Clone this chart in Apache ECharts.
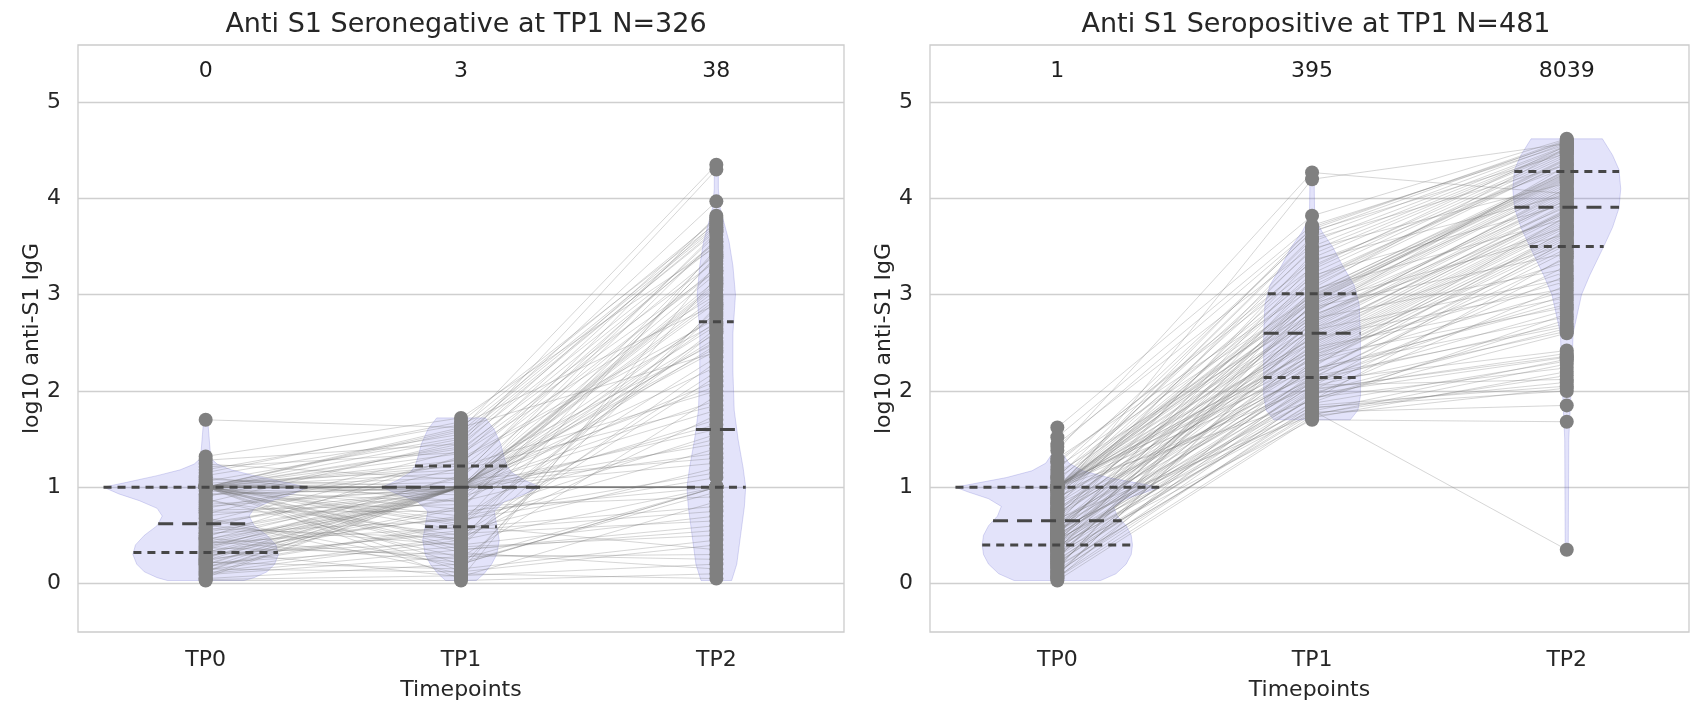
<!DOCTYPE html>
<html>
<head>
<meta charset="utf-8">
<script src="https://cdn.jsdelivr.net/npm/echarts@6/dist/echarts.min.js"></script>
<style>
  html, body { margin: 0; padding: 0; background: #fff; }
  #chart { width: 1690px; height: 706px; }
</style>
</head>
<body>
<div id="chart"></div>
<script>
var categories = ['TP0', 'TP1', 'TP2'];
var yTicks = [0, 1, 2, 3, 4, 5];
var panelTitles = ['Anti S1 Seronegative at TP1 N=326', 'Anti S1 Seropositive at TP1 N=481'];
var negCounts = ['0', '3', '38'];
var posCounts = ['1', '395', '8039'];

// log10 anti-S1 IgG per subject (same index = same subject), seronegative panel
var negTP0 = [0.03, 0.05, 0.08, 0.10, 0.12, 0.14, 0.16, 0.18, 0.20, 0.22,
  0.24, 0.25, 0.27, 0.28, 0.30, 0.31, 0.32, 0.33, 0.35, 0.37,
  0.38, 0.40, 0.42, 0.43, 0.45, 0.47, 0.50, 0.52, 0.55, 0.58,
  0.60, 0.62, 0.64, 0.67, 0.70, 0.74, 0.78, 0.82, 0.86, 0.90,
  0.93, 0.96, 1, 1, 1, 1, 1, 1, 1, 1,
  1, 1, 1, 1, 1, 1, 1, 1, 1, 1,
  1, 1, 1, 1.04, 1.08, 1.12, 1.18, 1.24, 1.32, 1.70,
  0.04, 0.06, 0.09, 0.11, 0.13, 0.15, 0.17, 0.19, 0.21, 0.23,
  0.26, 0.29, 0.34, 0.36, 0.39, 0.41, 0.44, 0.46, 0.48, 0.53,
  0.57, 0.63, 0.68, 0.72, 0.76, 0.80, 0.84, 0.88, 0.92, 0.98,
  1, 1, 1, 1, 1, 1, 1, 1, 1, 1,
  1, 1, 1, 1, 1.02, 1.06, 1.10, 1.15, 1.21, 1.28];
var negTP1 = [0.03, 0.20, 1.00, 0.35, 1.00, 0.48, 1.00, 0.62, 1.00, 0.15,
  1.00, 0.55, 1.00, 0.80, 1.00, 0.42, 1.00, 0.70, 1.00, 0.30,
  1.00, 0.90, 0.58, 1.00, 1.10, 0.25, 1.00, 0.66, 1.00, 1.20,
  0.40, 1.00, 1.30, 0.10, 1.00, 0.75, 1.25, 1.00, 0.50, 1.45,
  1.00, 0.85, 1.00, 1.00, 1.00, 1.00, 0.60, 1.22, 0.45, 1.35,
  0.65, 1.15, 0.32, 1.50, 0.95, 0.55, 1.28, 0.20, 1.40, 0.70,
  1.05, 1.60, 0.35, 1.18, 1.00, 1.55, 1.65, 1.08, 1.72, 1.62,
  0.08, 1.00, 0.28, 0.45, 1.00, 0.12, 0.60, 1.00, 0.38, 0.78,
  1.00, 0.52, 0.07, 1.12, 0.68, 1.00, 0.22, 0.88, 1.32, 1.00,
  0.47, 1.02, 0.18, 1.38, 0.82, 1.00, 1.48, 0.27, 1.00, 0.92,
  1.00, 0.38, 1.10, 0.62, 1.42, 0.13, 1.00, 0.77, 1.58, 0.05,
  0.97, 1.25, 0.43, 1.62, 1.00, 1.52, 0.85, 1.68, 1.36, 1.45];
var negTP2 = [0.10, 1.00, 2.10, 0.60, 1.45, 2.85, 1.00, 3.40, 2.60, 0.45,
  1.80, 1.20, 3.10, 0.90, 1.00, 2.30, 3.65, 1.55, 1.00, 0.25,
  2.95, 1.70, 0.80, 1.35, 3.82, 1.00, 2.45, 1.10, 1.00, 3.25,
  0.70, 1.90, 2.75, 0.05, 1.60, 1.00, 3.55, 1.25, 2.20, 4.30,
  1.00, 1.50, 1.00, 1.00, 1.00, 1.00, 0.35, 2.00, 1.00, 3.00,
  1.40, 2.50, 0.15, 3.97, 1.65, 0.75, 2.70, 1.00, 3.35, 1.15,
  2.05, 4.35, 0.55, 1.85, 1.00, 3.70, 2.90, 1.30, 3.50, 2.40,
  0.20, 2.52, 0.30, 2.15, 3.05, 0.40, 2.62, 2.25, 0.50, 3.45,
  2.68, 0.65, 0.85, 3.62, 2.35, 3.15, 0.95, 2.80, 3.76, 2.42,
  1.75, 3.22, 2.88, 3.52, 2.48, 2.78, 3.68, 1.95, 3.12, 2.55,
  2.92, 2.82, 3.28, 2.65, 3.80, 3.18, 2.98, 3.38, 3.72, 3.32,
  3.58, 3.42, 3.48, 3.78, 3.08, 3.66, 2.72, 3.74, 3.25, 3.55];

// seropositive panel
var posTP0 = [0.03, 0.05, 0.07, 0.09, 0.11, 0.13, 0.15, 0.17, 0.19, 0.21,
  0.23, 0.25, 0.27, 0.29, 0.30, 0.32, 0.34, 0.35, 0.36, 0.37,
  0.38, 0.40, 0.41, 0.42, 0.43, 0.44, 0.45, 0.46, 0.47, 0.48,
  0.49, 0.50, 0.51, 0.52, 0.53, 0.54, 0.55, 0.56, 0.57, 0.58,
  0.59, 0.60, 0.62, 0.63, 0.65, 0.67, 0.69, 0.70, 0.72, 0.74,
  0.76, 0.78, 0.80, 0.82, 0.84, 0.86, 0.88, 0.90, 0.92, 0.94,
  0.96, 0.97, 0.99, 1, 1, 1, 1, 1, 1, 1,
  1, 1, 1, 1, 1, 1, 1, 1.03, 1.06, 1.09,
  1.12, 1.15, 1.18, 1.21, 1.25, 1.30, 1.38, 1.45, 1.52, 1.62,
  0.06, 0.12, 0.18, 0.22, 0.28, 0.33, 0.39, 0.42, 0.45, 0.50,
  0.55, 0.61, 0.66, 0.71, 0.77, 0.83, 0.89, 0.95, 1, 1,
  1, 1, 1, 1, 0.08, 0.16, 0.26, 0.35, 0.44, 0.52,
  0.60, 0.68, 0.74, 0.86, 1, 1, 1, 1.10, 1.27, 1.42];
var posTP1 = [1.72, 2.30, 1.85, 2.62, 1.95, 2.10, 3.03, 1.78, 2.44, 2.00,
  2.18, 1.88, 2.74, 2.06, 2.52, 1.70, 2.36, 2.90, 2.13, 1.92,
  2.26, 2.84, 1.97, 2.40, 3.15, 2.11, 2.58, 1.80, 2.66, 2.22,
  2.48, 3.30, 2.02, 2.70, 2.14, 2.95, 2.34, 1.83, 2.80, 2.56,
  2.08, 2.60, 3.42, 2.28, 2.97, 1.75, 2.46, 3.09, 2.64, 2.20,
  2.88, 2.38, 3.55, 2.12, 2.76, 3.22, 2.50, 4.20, 2.99, 2.04,
  2.68, 3.12, 2.32, 2.86, 3.60, 2.42, 2.94, 1.90, 3.38, 2.72,
  2.16, 2.96, 3.26, 2.54, 3.70, 2.82, 3.00, 2.24, 3.46, 2.92,
  3.18, 2.78, 3.65, 2.98, 3.34, 3.06, 4.27, 3.50, 3.72, 3.82,
  1.74, 1.82, 1.76, 1.93, 1.87, 2.01, 1.79, 2.05, 1.98, 2.15,
  1.91, 2.23, 2.09, 2.35, 2.19, 2.45, 2.29, 2.55, 2.41, 2.63,
  2.37, 2.75, 2.51, 2.87, 2.65, 2.91, 2.79, 3.05, 2.71, 3.20,
  2.83, 3.36, 2.93, 3.48, 3.02, 3.58, 3.14, 3.66, 3.28, 3.68];
var posTP2 = [2.20, 3.60, 2.05, 3.87, 3.10, 2.42, 4.26, 1.85, 3.76, 3.30,
  3.52, 2.80, 4.05, 2.12, 3.88, 1.68, 3.66, 4.30, 3.45, 2.60,
  3.58, 4.15, 2.35, 3.72, 4.42, 3.00, 3.95, 0.35, 4.01, 2.90,
  3.80, 4.48, 2.36, 4.11, 3.38, 4.21, 3.62, 2.00, 4.34, 3.89,
  3.20, 3.93, 4.51, 3.54, 4.22, 2.28, 3.78, 4.38, 3.99, 3.48,
  4.19, 3.70, 4.55, 2.70, 4.07, 4.44, 3.84, 4.57, 4.24, 3.56,
  4.03, 4.40, 3.64, 4.17, 4.58, 3.74, 4.20, 3.40, 4.50, 4.09,
  3.68, 4.23, 4.46, 3.86, 4.59, 4.13, 4.25, 3.82, 4.52, 4.27,
  4.36, 3.91, 4.60, 4.28, 4.32, 4.53, 4.05, 4.54, 4.56, 4.62,
  2.03, 2.09, 2.16, 2.24, 2.31, 2.39, 2.33, 2.62, 2.65, 2.67,
  2.74, 2.77, 2.84, 2.87, 2.94, 2.97, 3.04, 3.07, 3.14, 3.17,
  3.24, 3.27, 3.34, 3.43, 3.53, 3.63, 3.71, 3.79, 3.85, 3.94,
  3.98, 4.04, 4.10, 4.16, 4.29, 4.35, 4.41, 4.47, 4.55, 4.61];

// quartiles [q1, median, q3] per timepoint
var negQuart = [[0.32, 0.62, 1.00], [0.59, 1.00, 1.22], [1.00, 1.60, 2.72]];
var posQuart = [[0.40, 0.65, 1.00], [2.14, 2.60, 3.01], [3.50, 3.91, 4.28]];

// violin outlines: [log10 value, half width in category units]
var negViolin0 = [[0.03, 0.15], [0.06, 0.19], [0.12, 0.24], [0.2, 0.27], [0.3, 0.285], [0.4, 0.275],
  [0.5, 0.24], [0.6, 0.19], [0.7, 0.17], [0.78, 0.19], [0.86, 0.26], [0.93, 0.34], [1.0, 0.40],
  [1.05, 0.31], [1.12, 0.19], [1.18, 0.10], [1.24, 0.045], [1.3, 0.02], [1.7, 0.008]];
var negViolin1 = [[0.03, 0.06], [0.1, 0.09], [0.2, 0.12], [0.3, 0.14], [0.45, 0.15], [0.6, 0.14],
  [0.75, 0.13], [0.85, 0.17], [0.93, 0.25], [1.0, 0.31], [1.07, 0.25], [1.15, 0.2], [1.22, 0.18],
  [1.3, 0.17], [1.45, 0.155], [1.6, 0.13], [1.72, 0.095]];
var negViolin2 = [[0.03, 0.06], [0.2, 0.08], [0.5, 0.095], [0.8, 0.11], [1.0, 0.115], [1.2, 0.105],
  [1.5, 0.085], [1.8, 0.07], [2.2, 0.065], [2.6, 0.065], [3.0, 0.075], [3.3, 0.065], [3.55, 0.05],
  [3.75, 0.03], [3.9, 0.015], [4.1, 0.008], [4.35, 0.008]];
var posViolin0 = [[0.03, 0.17], [0.1, 0.23], [0.2, 0.27], [0.3, 0.29], [0.4, 0.295], [0.5, 0.29],
  [0.6, 0.27], [0.7, 0.235], [0.8, 0.22], [0.88, 0.27], [0.95, 0.35], [1.0, 0.40], [1.05, 0.30],
  [1.1, 0.20], [1.17, 0.10], [1.25, 0.045], [1.35, 0.02], [1.62, 0.01]];
var posViolin1 = [[1.7, 0.15], [1.8, 0.18], [1.95, 0.19], [2.2, 0.19], [2.6, 0.19], [2.9, 0.185],
  [3.1, 0.165], [3.3, 0.12], [3.5, 0.08], [3.65, 0.04], [3.75, 0.02], [3.85, 0.01], [4.27, 0.008]];
var posViolin2 = [[0.35, 0.006], [1.5, 0.008], [1.9, 0.015], [2.2, 0.02], [2.6, 0.025], [3.0, 0.058],
  [3.2, 0.09], [3.5, 0.145], [3.7, 0.18], [3.9, 0.205], [4.1, 0.212], [4.3, 0.205], [4.45, 0.18],
  [4.62, 0.14]];

var FONT = 'DejaVu Sans';
var TEXT = '#262626';

function halfWidthAt(profile, y) {
  for (var i = 1; i < profile.length; i++) {
    if (y <= profile[i][0]) {
      var a = profile[i - 1], b = profile[i];
      return a[1] + (y - a[0]) / (b[0] - a[0]) * (b[1] - a[1]);
    }
  }
  return profile[profile.length - 1][1];
}

function violinRender(profiles) {
  return function (params, api) {
    var c = api.value(0);
    var prof = profiles[c];
    var pts = [];
    for (var i = 0; i < prof.length; i++) pts.push(api.coord([c + prof[i][1], prof[i][0]]));
    for (var j = prof.length - 1; j >= 0; j--) pts.push(api.coord([c - prof[j][1], prof[j][0]]));
    return {
      type: 'polygon',
      shape: { points: pts },
      style: { fill: 'rgba(90,90,225,0.17)', stroke: 'rgba(90,90,200,0.22)', lineWidth: 1 }
    };
  };
}

function pairRender(params, api) {
  var pts = [0, 1, 2].map(function (k) { return api.coord([k, api.value(k)]); });
  return {
    type: 'polyline',
    shape: { points: pts },
    style: { stroke: 'rgba(115,115,115,0.42)', lineWidth: 0.7, fill: null }
  };
}

function quartRender(profiles) {
  return function (params, api) {
    var c = api.value(0);
    var kids = [1, 2, 3].map(function (k) {
      var q = api.value(k);
      var hw = halfWidthAt(profiles[c], q);
      var a = api.coord([c - hw, q]), b = api.coord([c + hw, q]);
      return {
        type: 'line',
        shape: { x1: a[0], y1: a[1], x2: b[0], y2: b[1] },
        style: { stroke: '#474747', lineWidth: 3, lineDash: k === 2 ? [15, 9] : [8, 6] }
      };
    });
    return { type: 'group', children: kids };
  };
}

function countRender(labels) {
  return function (params, api) {
    var p = api.coord([api.value(0), api.value(1)]);
    return {
      type: 'text', x: p[0], y: p[1],
      style: { text: labels[params.dataIndex], fontSize: 22, fontFamily: FONT, fill: '#1e1e1e',
        align: 'center', verticalAlign: 'middle' }
    };
  };
}

function panelSeries(idx, tp0, tp1, tp2, quart, profiles, counts) {
  var pairs = tp0.map(function (v, i) { return [v, tp1[i], tp2[i]]; });
  var strip = [];
  [tp0, tp1, tp2].forEach(function (arr, k) {
    arr.forEach(function (v) { strip.push([k, v]); });
  });
  var base = { xAxisIndex: idx, yAxisIndex: idx, silent: true };
  return [
    Object.assign({ type: 'custom', z: 1, renderItem: violinRender(profiles), data: [[0], [1], [2]] }, base),
    Object.assign({ type: 'custom', z: 2, renderItem: pairRender, data: pairs }, base),
    Object.assign({ type: 'scatter', z: 3, symbolSize: 14, itemStyle: { color: '#808080', opacity: 1 }, data: strip }, base),
    Object.assign({ type: 'custom', z: 4, renderItem: quartRender(profiles),
      data: quart.map(function (q, k) { return [k, q[0], q[1], q[2]]; }) }, base),
    Object.assign({ type: 'custom', z: 5, renderItem: countRender(counts),
      data: counts.map(function (c, k) { return [k, 5.32]; }) }, base)
  ];
}

function xAxisCfg(idx, max) {
  return {
    gridIndex: idx, type: 'value', min: -0.5, max: max,
    splitLine: { show: false }, axisLine: { show: false }, axisTick: { show: false },
    axisLabel: { customValues: [0, 1, 2], formatter: function (v) { return categories[v]; },
      fontSize: 22, fontFamily: FONT, color: TEXT, margin: 17 },
    name: 'Timepoints', nameLocation: 'middle', nameGap: 47,
    nameTextStyle: { fontSize: 22, fontFamily: FONT, color: TEXT }
  };
}

function yAxisCfg(idx) {
  return {
    gridIndex: idx, type: 'value', min: -0.505, max: 5.595,
    axisLine: { show: false },
    axisTick: { show: false, customValues: yTicks },
    axisLabel: { customValues: yTicks, fontSize: 22, fontFamily: FONT, color: TEXT, margin: 17 },
    splitLine: { show: true, lineStyle: { color: '#cfcfcf', width: 1.3 } },
    name: 'log10 anti-S1 IgG', nameLocation: 'middle', nameGap: 35, nameRotate: 90,
    nameTextStyle: { fontSize: 22, fontFamily: FONT, color: TEXT }
  };
}

var chart = echarts.init(document.getElementById('chart'), null, { renderer: 'canvas' });
var option = {
  animation: false,
  backgroundColor: '#ffffff',
  textStyle: { fontFamily: FONT },
  title: [
    { text: panelTitles[0], left: 461, top: 6, textAlign: 'center',
      textStyle: { fontSize: 27, fontWeight: 'normal', fontFamily: FONT, color: TEXT } },
    { text: panelTitles[1], left: 1311, top: 6, textAlign: 'center',
      textStyle: { fontSize: 27, fontWeight: 'normal', fontFamily: FONT, color: TEXT } }
  ],
  grid: [
    { left: 78, top: 45, width: 766, height: 589, show: true, borderColor: '#cccccc', borderWidth: 1.3 },
    { left: 930, top: 45, width: 759, height: 589, show: true, borderColor: '#cccccc', borderWidth: 1.3 }
  ],
  xAxis: [xAxisCfg(0, 2.5), xAxisCfg(1, 2.48)],
  yAxis: [yAxisCfg(0), yAxisCfg(1)],
  series: panelSeries(0, negTP0, negTP1, negTP2, negQuart,
      [negViolin0, negViolin1, negViolin2], negCounts)
    .concat(panelSeries(1, posTP0, posTP1, posTP2, posQuart,
      [posViolin0, posViolin1, posViolin2], posCounts))
};
chart.setOption(option);
</script>
</body>
</html>
